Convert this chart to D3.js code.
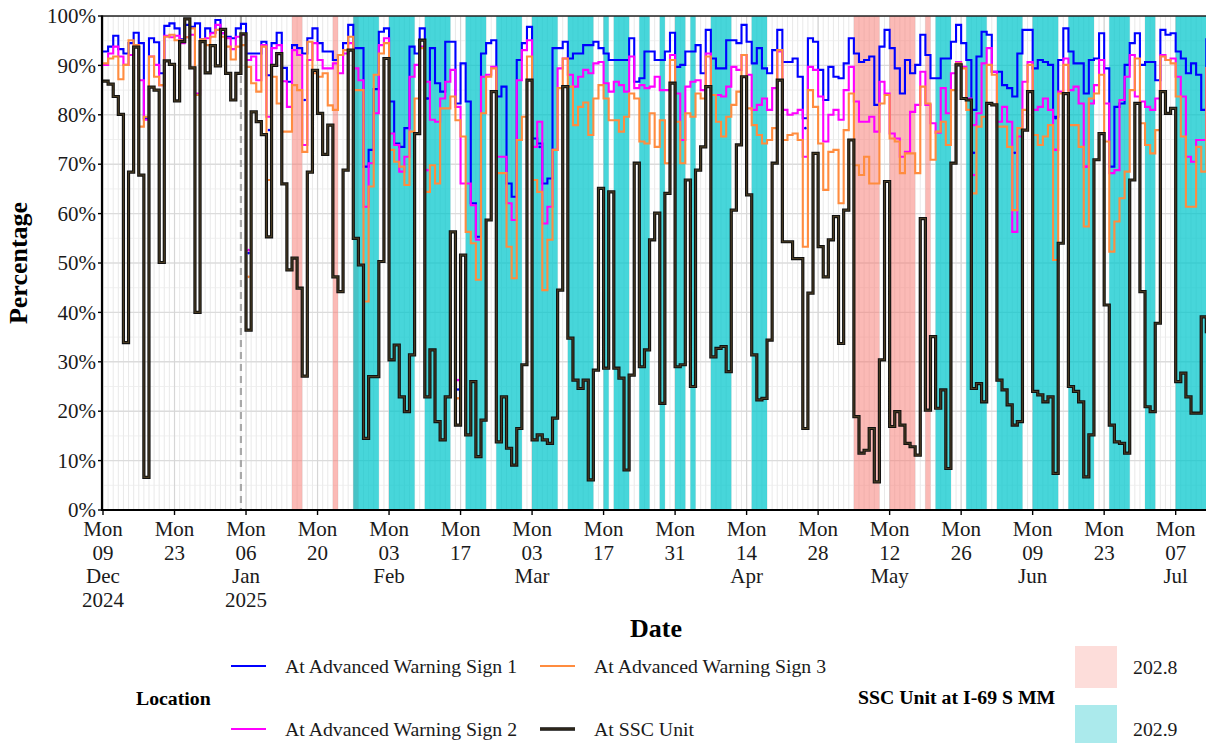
<!DOCTYPE html>
<html>
<head>
<meta charset="utf-8">
<script src="https://cdn.jsdelivr.net/npm/d3@7"></script>
<style>
  html, body { margin: 0; padding: 0; background: #fff; }
  svg { display: block; }
  svg text { font-family: "Liberation Serif", "Times New Roman", serif; }
</style>
</head>
<body>
<svg id="chart" width="1206" height="743"></svg>
<script>
// Daily share of readings, one value per day starting on this date
const startDate = "2024-12-09";

const sign1 = [92.8,93.8,96.0,93.3,92.4,94.5,96.6,94.5,79.3,95.5,
 94.7,88.4,98.0,98.5,97.5,95.3,98.2,97.8,98.5,95.3,
 97.5,96.6,99.2,96.5,95.8,95.5,97.5,98.4,92.4,92.4,
 92.4,94.8,88.0,94.5,96.6,89.5,86.7,94.1,93.5,92.4,
 95.5,97.5,94.5,92.8,92.8,91.1,92.1,94.5,98.2,93.5,
 93.5,69.5,72.9,85.2,96.8,97.5,82.7,74.2,73.5,77.3,
 93.8,92.4,97.5,83.3,93.5,86.4,84.7,94.8,94.8,82.3,
 90.4,82.7,62.1,55.3,92.4,94.5,95.1,83.7,85.7,66.1,
 63.4,91.1,94.5,97.8,75.2,74.2,66.1,67.1,93.5,93.5,
 94.8,91.4,92.4,92.4,94.1,94.1,94.8,93.5,92.4,91.1,
 91.1,91.1,91.1,95.5,86.7,87.4,92.8,92.8,91.1,91.1,
 92.8,96.6,89.7,90.1,92.8,92.8,94.1,88.4,97.2,91.4,
 89.4,89.4,95.1,95.1,94.5,98.2,94.8,90.4,93.5,89.4,
 88.4,93.1,97.2,90.7,90.7,91.4,87.7,79.3,95.5,94.8,
 89.1,83.0,89.7,87.7,87.4,90.4,95.5,92.4,90.7,91.1,
 91.8,82.0,93.8,97.2,93.5,89.4,84.3,91.1,88.4,90.1,
 96.2,92.1,87.4,87.4,91.4,91.4,94.8,98.2,94.5,91.1,
 81.0,91.8,96.8,96.2,88.7,88.7,86.0,85.4,83.7,92.4,
 97.2,97.2,89.4,91.1,90.7,90.1,79.6,91.1,97.5,92.8,
 90.4,90.4,84.3,91.1,91.4,96.5,89.4,69.5,81.6,82.3,
 90.1,94.5,96.5,90.1,90.7,90.7,87.0,97.2,96.2,96.5,
 92.8,91.4,88.4,90.4,88.1,81.0,95.5];

const sign2 = [90.1,92.4,93.8,91.8,90.1,92.1,94.1,87.0,79.0,91.8,
 90.1,86.0,96.0,95.7,96.0,94.5,95.7,96.2,84.3,95.1,
 95.5,96.5,98.2,96.5,95.5,93.3,95.8,96.2,91.1,91.8,
 87.0,94.1,79.6,93.5,94.1,86.8,81.6,93.1,92.1,73.9,
 91.1,94.5,91.1,89.4,89.4,90.4,88.4,92.4,94.5,89.4,
 87.0,61.4,70.2,80.3,94.1,95.5,76.2,73.9,68.5,71.5,
 87.7,90.1,93.8,86.7,79.0,78.6,83.3,86.7,89.1,81.6,
 66.1,66.1,61.7,54.7,87.7,88.1,89.7,71.5,71.5,62.1,
 58.7,87.0,93.1,95.1,73.5,78.6,58.0,61.4,72.9,89.4,
 91.4,88.1,85.7,87.7,89.1,88.4,90.4,90.7,86.4,84.7,
 86.7,86.0,84.7,91.8,85.4,86.0,85.4,85.7,87.7,85.0,
 85.0,92.1,84.3,74.9,85.7,86.7,87.0,85.0,92.4,84.0,
 84.0,83.7,85.7,89.7,89.1,92.1,88.1,81.0,82.0,83.3,
 81.0,85.4,92.8,81.0,80.0,80.3,81.0,71.5,89.7,89.1,
 83.7,74.6,80.0,81.0,79.0,85.0,89.7,82.7,78.6,78.6,
 79.6,76.6,86.7,84.3,76.2,75.2,71.5,72.5,80.6,82.0,
 88.7,82.0,78.3,76.4,85.4,80.3,88.4,90.7,89.7,83.3,
 77.9,80.3,90.4,93.5,88.7,78.6,81.6,78.6,56.3,75.6,
 86.7,90.7,81.0,81.6,83.3,81.0,72.9,84.7,91.4,85.0,
 85.7,82.3,69.5,82.3,86.0,91.1,82.3,68.2,68.8,83.0,
 87.7,92.1,83.7,82.7,81.6,81.0,83.3,92.1,91.1,91.4,
 87.7,83.7,71.5,70.5,74.9,74.9,89.7];

const sign3 = [90.4,91.4,91.8,87.2,90.1,95.1,94.1,77.6,79.6,91.8,
 87.7,86.0,95.8,96.2,95.1,95.1,95.7,97.5,84.0,95.3,
 94.1,95.8,97.2,95.8,93.8,91.2,93.8,94.1,89.7,86.4,
 84.7,93.8,66.8,87.7,82.3,76.6,76.6,86.0,85.0,72.5,
 94.8,88.4,87.7,88.4,81.9,81.0,92.1,93.1,95.8,85.0,
 85.0,42.2,65.5,88.1,92.4,94.5,72.9,70.5,69.5,65.8,
 76.6,83.3,93.5,64.4,69.8,66.1,81.3,81.3,83.7,78.9,
 75.6,56.3,54.0,46.6,80.3,87.7,89.4,68.2,68.2,53.3,
 46.9,74.9,79.6,91.8,66.8,64.4,44.5,54.7,72.9,85.4,
 91.4,85.7,77.9,81.6,82.5,75.9,83.3,86.0,83.3,78.9,
 78.9,76.6,79.6,84.3,83.3,74.6,74.2,80.3,73.5,78.9,
 70.2,91.1,78.6,70.2,80.3,79.6,84.3,83.3,91.8,84.0,
 78.6,75.6,79.6,82.0,84.7,92.1,81.3,77.9,75.9,74.2,
 74.9,77.3,93.1,74.9,75.9,76.2,74.9,53.3,85.0,81.6,
 74.2,64.8,72.5,72.9,62.1,76.9,84.3,69.8,67.8,71.5,
 66.1,66.1,82.3,84.0,75.2,74.6,68.2,72.2,72.2,68.2,
 85.7,82.3,70.9,76.6,78.6,73.9,85.0,90.4,89.4,81.0,
 64.1,77.6,79.6,90.1,88.1,77.6,77.6,73.5,60.7,77.3,
 81.0,90.1,75.9,73.9,75.6,77.9,50.6,84.3,90.1,77.9,
 77.9,73.5,57.4,83.3,84.3,88.1,74.6,52.3,58.4,63.1,
 68.5,85.0,91.4,78.3,73.9,72.2,76.9,91.8,91.1,90.4,
 83.7,75.6,61.4,61.4,73.5,68.5,89.7];

const sscUnit = [86.8,86.2,83.7,80.1,33.9,68.4,93.7,67.8,6.6,85.6,
 85.0,50.1,90.9,90.2,82.8,94.8,99.4,89.5,40.0,94.8,
 88.5,94.0,89.9,97.3,88.4,83.0,88.4,96.4,36.4,80.6,
 78.6,76.0,55.3,90.0,92.4,66.0,48.6,51.0,44.9,27.1,
 68.4,89.0,80.3,72.0,77.9,47.2,44.2,68.8,93.1,55.0,
 49.6,14.5,27.0,27.0,50.3,91.4,30.4,33.4,22.9,19.9,
 31.4,76.2,95.1,22.9,32.4,17.9,14.2,22.9,56.3,17.2,
 51.6,15.2,26.0,10.8,18.2,58.7,84.7,13.8,22.9,12.5,
 9.1,16.5,29.4,87.0,14.2,15.2,14.2,13.5,18.6,44.5,
 85.7,34.8,26.3,24.6,26.3,6.1,28.3,65.1,28.7,64.4,
 28.7,26.7,8.1,27.3,70.2,29.0,32.4,54.7,60.1,21.6,
 64.1,86.4,29.0,29.4,66.8,25.0,68.8,73.5,85.7,31.0,
 32.7,33.1,28.0,60.7,73.9,87.7,63.8,31.4,22.3,22.6,
 34.4,70.2,87.0,54.3,54.3,50.9,50.9,16.5,43.9,72.2,
 53.3,47.2,54.7,59.4,33.7,60.7,74.9,18.9,11.5,12.1,
 16.5,5.7,30.4,66.5,16.9,19.9,17.2,13.5,12.8,11.1,
 59.0,20.2,35.1,20.6,24.3,8.4,70.2,90.1,83.3,83.0,
 24.6,25.6,21.9,82.3,82.0,26.3,24.3,21.3,17.2,17.9,
 76.9,84.7,24.0,23.3,21.9,22.9,7.4,54.0,84.3,25.0,
 24.0,21.9,6.7,15.2,70.9,76.2,41.5,17.2,13.8,13.5,
 11.5,66.8,82.3,44.2,20.9,19.9,37.8,84.7,80.3,81.3,
 26.0,27.7,22.9,19.6,19.6,39.1,35.8];

// Single readings on days where a sign reported separately
const sign1Spots = [["2025-01-06",52.0],["2025-01-10",76.9],["2025-01-17",83.0],["2025-02-10",83.3],
  ["2025-02-16",24.4],["2025-03-04",73.5],["2025-04-25",77.3],["2025-05-28",72.3],
  ["2025-06-05",72.3],["2025-06-13",79.3]];
const sign2Spots = [["2025-01-06",52.6],["2025-02-10",68.8],["2025-02-16",26.3],["2025-05-28",67.8],
  ["2025-06-13",72.9],["2025-06-19",69.5]];
const sign3Spots = [["2025-01-06",47.2],["2025-02-16",22.6]];

// Periods the SSC unit sat at each mile marker [start, end)
const unitAt2028 = [["2025-01-15","2025-01-17"],["2025-01-23","2025-01-24"],["2025-01-27","2025-01-28"],
  ["2025-05-05","2025-05-10"],["2025-05-12","2025-05-17"],["2025-05-19","2025-05-20"]];
const unitAt2029 = [["2025-01-27","2025-02-01"],["2025-02-03","2025-02-08"],["2025-02-10","2025-02-15"],
  ["2025-02-18","2025-02-22"],["2025-02-24","2025-03-01"],["2025-03-03","2025-03-08"],
  ["2025-03-10","2025-03-15"],["2025-03-17","2025-03-18"],["2025-03-19","2025-03-22"],
  ["2025-03-24","2025-03-26"],["2025-03-28","2025-03-29"],["2025-03-31","2025-04-02"],
  ["2025-04-03","2025-04-04"],["2025-04-07","2025-04-11"],["2025-04-15","2025-04-18"],
  ["2025-05-21","2025-05-24"],["2025-05-27","2025-05-31"],["2025-06-02","2025-06-07"],
  ["2025-06-09","2025-06-14"],["2025-06-16","2025-06-21"],["2025-06-24","2025-06-28"],
  ["2025-07-01","2025-07-03"],["2025-07-07","2025-07-14"]];

const markerDate = "2025-01-05";
const tickDates = ["2024-12-09","2024-12-23","2025-01-06","2025-01-20","2025-02-03","2025-02-17",
  "2025-03-03","2025-03-17","2025-03-31","2025-04-14","2025-04-28","2025-05-12","2025-05-26",
  "2025-06-09","2025-06-23","2025-07-07"];
const yTicks = [0,10,20,30,40,50,60,70,80,90,100];

const seriesNames = ["At Advanced Warning Sign 1","At Advanced Warning Sign 2","At Advanced Warning Sign 3","At SSC Unit"];
const seriesColors = ["#0000ff","#ff00ff","#ff8c3f","#1a1208"];
const bandLabels = ["202.8","202.9"];

// ---------------------------------------------------------------------------
const parse = d3.utcParse("%Y-%m-%d");
const t0 = parse(startDate);
const nDays = 217;
const dayPx = 5.108;
const panel = { left: 102, right: 1206, top: 16, bottom: 510 };

const x = d3.scaleUtc()
  .domain([t0, d3.utcDay.offset(t0, nDays)])
  .range([103, 103 + nDays * dayPx]);
const y = d3.scaleLinear().domain([0, 100]).range([510, 16]);

const svg = d3.select("#chart");
svg.append("rect").attr("width", 1206).attr("height", 743).attr("fill", "#fff");

svg.append("clipPath").attr("id", "panelClip")
  .append("rect")
  .attr("x", panel.left).attr("y", panel.top)
  .attr("width", panel.right - panel.left).attr("height", panel.bottom - panel.top);

const g = svg.append("g").attr("clip-path", "url(#panelClip)");

// grid
const allDays = d3.utcDay.range(t0, d3.utcDay.offset(t0, nDays + 1));
g.append("g").selectAll("line").data(allDays).join("line")
  .attr("x1", d => x(d)).attr("x2", d => x(d))
  .attr("y1", panel.top).attr("y2", panel.bottom)
  .attr("stroke", "#e6e6e6").attr("stroke-width", 0.9);
g.append("g").selectAll("line").data(d3.range(5, 100, 10)).join("line")
  .attr("x1", panel.left).attr("x2", panel.right)
  .attr("y1", d => y(d)).attr("y2", d => y(d))
  .attr("stroke", "#ececec").attr("stroke-width", 0.8);
g.append("g").selectAll("line").data(yTicks).join("line")
  .attr("x1", panel.left).attr("x2", panel.right)
  .attr("y1", d => y(d)).attr("y2", d => y(d))
  .attr("stroke", "#dcdcdc").attr("stroke-width", 1.4);
g.append("g").selectAll("line").data(tickDates.map(parse)).join("line")
  .attr("x1", d => x(d)).attr("x2", d => x(d))
  .attr("y1", panel.top).attr("y2", panel.bottom)
  .attr("stroke", "#d6d6d6").attr("stroke-width", 1.2);

// mile-marker periods
function drawBands(list, color, opacity) {
  g.append("g").selectAll("rect").data(list).join("rect")
    .attr("x", d => x(parse(d[0])))
    .attr("width", d => x(parse(d[1])) - x(parse(d[0])))
    .attr("y", panel.top).attr("height", panel.bottom - panel.top)
    .attr("fill", color).attr("fill-opacity", opacity);
}
drawBands(unitAt2028, "#f8766d", 0.5);
drawBands(unitAt2029, "#00c6cc", 0.72);

// dashed marker
g.append("line")
  .attr("x1", x(parse(markerDate))).attr("x2", x(parse(markerDate)))
  .attr("y1", panel.top).attr("y2", panel.bottom)
  .attr("stroke", "#a8a8a8").attr("stroke-width", 2.2).attr("stroke-dasharray", "7,5");

// step lines
const days = d3.range(nDays).map(i => d3.utcDay.offset(t0, i));
const line = d3.line().curve(d3.curveStepAfter).x(d => x(d[0])).y(d => y(d[1]));
const seriesData = [sign1, sign2, sign3].map(v => v.map((val, i) => [days[i], val]));

seriesData.forEach((pts, k) => {
  g.append("path").datum(pts).attr("d", line)
    .attr("fill", "none").attr("stroke", seriesColors[k]).attr("stroke-width", 2.1)
    .attr("stroke-linejoin", "miter");
});

// spot readings
const noon = s => d3.utcHour.offset(parse(s), 12);
[[sign1Spots, 0], [sign2Spots, 1], [sign3Spots, 2]].forEach(([spots, k]) => {
  g.append("g").selectAll("circle").data(spots).join("circle")
    .attr("cx", d => x(noon(d[0]))).attr("cy", d => y(d[1]))
    .attr("r", 1.3).attr("fill", seriesColors[k]);
});

// SSC unit line on top: dark outline with a brown core
const sscPts = sscUnit.map((val, i) => [days[i], val]);
g.append("path").datum(sscPts).attr("d", line)
  .attr("fill", "none").attr("stroke", "#111").attr("stroke-width", 3.2);
g.append("path").datum(sscPts).attr("d", line)
  .attr("fill", "none").attr("stroke", "#4a3c22").attr("stroke-width", 1.1);

// panel frame
svg.append("line").attr("x1", panel.left).attr("x2", panel.right)
  .attr("y1", panel.top).attr("y2", panel.top)
  .attr("stroke", "#222").attr("stroke-width", 1.3);
svg.append("line").attr("x1", panel.left).attr("x2", panel.left)
  .attr("y1", panel.top - 0.6).attr("y2", panel.bottom + 1)
  .attr("stroke", "#000").attr("stroke-width", 2.2);
svg.append("line").attr("x1", panel.left - 1).attr("x2", panel.right)
  .attr("y1", panel.bottom).attr("y2", panel.bottom)
  .attr("stroke", "#000").attr("stroke-width", 2.2);

// y axis
const yAxis = svg.append("g");
yAxis.selectAll("line").data(yTicks).join("line")
  .attr("x1", panel.left - 4).attr("x2", panel.left)
  .attr("y1", d => y(d)).attr("y2", d => y(d))
  .attr("stroke", "#000").attr("stroke-width", 1.4);
yAxis.selectAll("text").data(yTicks).join("text")
  .attr("x", panel.left - 6).attr("y", d => y(d))
  .attr("dy", "0.34em").attr("text-anchor", "end")
  .attr("font-size", 21).attr("fill", "#1a1a1a")
  .text(d => d + "%");

// x axis
const fmtDay = d3.utcFormat("%d"), fmtMon = d3.utcFormat("%b"), fmtYear = d3.utcFormat("%Y");
const xAxis = svg.append("g");
const tickParsed = tickDates.map(parse);
xAxis.selectAll("line").data(tickParsed).join("line")
  .attr("x1", d => x(d)).attr("x2", d => x(d))
  .attr("y1", panel.bottom).attr("y2", panel.bottom + 5)
  .attr("stroke", "#000").attr("stroke-width", 1.4);
tickParsed.forEach((d, i) => {
  const prev = tickParsed[i - 1];
  const lines = ["Mon", fmtDay(d)];
  if (!prev || prev.getUTCMonth() !== d.getUTCMonth()) lines.push(fmtMon(d));
  if (!prev || prev.getUTCFullYear() !== d.getUTCFullYear()) lines.push(fmtYear(d));
  const t = xAxis.append("text").attr("text-anchor", "middle")
    .attr("font-size", 21).attr("fill", "#1a1a1a");
  lines.forEach((s, j) => {
    t.append("tspan").attr("x", x(d)).attr("y", 536 + j * 23.6).text(s);
  });
});

// axis titles
svg.append("text").attr("transform", "translate(27,263) rotate(-90)")
  .attr("text-anchor", "middle").attr("font-size", 26).attr("font-weight", "bold")
  .text("Percentage");
svg.append("text").attr("x", 656).attr("y", 637)
  .attr("text-anchor", "middle").attr("font-size", 26).attr("font-weight", "bold")
  .text("Date");

// legend: locations
const leg = svg.append("g").attr("font-size", 19.8).attr("fill", "#1a1a1a");
leg.append("text").attr("x", 136).attr("y", 705).attr("font-weight", "bold").attr("fill", "#000").text("Location");
const legPos = [[231, 666], [231, 729], [540, 666], [540, 729]];
seriesNames.forEach((name, k) => {
  const [lx, ly] = legPos[k];
  if (k === 3) {
    leg.append("line").attr("x1", lx).attr("x2", lx + 35).attr("y1", ly).attr("y2", ly)
      .attr("stroke", "#111").attr("stroke-width", 3.4);
    leg.append("line").attr("x1", lx).attr("x2", lx + 35).attr("y1", ly).attr("y2", ly)
      .attr("stroke", "#4a3c22").attr("stroke-width", 1.1);
  } else {
    leg.append("line").attr("x1", lx).attr("x2", lx + 35).attr("y1", ly).attr("y2", ly)
      .attr("stroke", seriesColors[k]).attr("stroke-width", 2.2);
  }
  leg.append("text").attr("x", lx + 54).attr("y", ly).attr("dy", "0.34em").text(name);
});

// legend: mile markers
leg.append("text").attr("x", 858).attr("y", 704).attr("font-weight", "bold").attr("fill", "#000")
  .text("SSC Unit at I-69 S MM");
const keyFills = [["#f8766d", 0.25], ["#00bfc4", 0.33]];
bandLabels.forEach((lab, k) => {
  leg.append("rect").attr("x", 1075).attr("y", 646 + k * 59).attr("width", 42).attr("height", 42)
    .attr("fill", keyFills[k][0]).attr("fill-opacity", keyFills[k][1]);
  leg.append("text").attr("x", 1133).attr("y", 667 + k * 62).attr("dy", "0.34em").text(lab);
});
</script>
</body>
</html>
